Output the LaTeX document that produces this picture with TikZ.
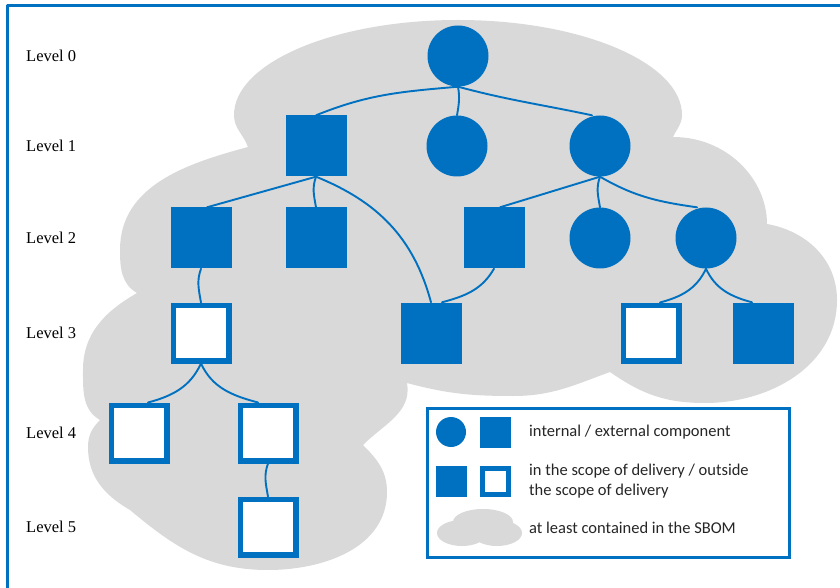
\documentclass[tikz,border=0pt]{standalone}
\usepackage{fontspec}
\setmainfont{Liberation Serif}
\newfontfamily\legendfont{Carlito}
\definecolor{SbomBlue}{HTML}{0070C0}
\definecolor{CloudGray}{HTML}{D9D9D9}

\begin{document}
\begin{tikzpicture}[x=1pt,y=1pt,line cap=round,line join=round,
  internal/.style={circle,fill=SbomBlue,minimum size=61pt,inner sep=0pt},
  external/.style={rectangle,fill=SbomBlue,minimum size=61pt,inner sep=0pt},
  outside/.style={rectangle,draw=SbomBlue,fill=white,line width=5.5pt,line join=miter,minimum size=55.5pt,inner sep=0pt},
  link/.style={draw=SbomBlue,line width=1.9pt},
  level/.style={anchor=west,inner sep=0pt,font=\fontsize{16.5}{20}\selectfont},
  key/.style={anchor=west,inner sep=0pt,text=black!85,font=\legendfont\fontsize{16.5}{20}\selectfont}]
  \useasboundingbox (0,0) rectangle (840,587);
  % cloud = everything listed in the SBOM
  \fill[CloudGray] (248,440) to[out=110,in=270] (234,472) .. controls (234,524) and (334,567) .. (458,567)
    .. controls (582,567) and (682,524) .. (682,472) to[out=270,in=65] (673,450)
    .. controls (727,450) and (767,408) .. (767,363) to[out=-10,in=90] (837,287) to[out=270,in=0] (705,184) to[out=180,in=-35] (610,215)
    to[out=200,in=0] (513,191) to[out=180,in=-15] (407,204) to[out=-80,in=45] (363,142)
    to[out=-45,in=90] (387,95) to[out=270,in=0] (268,17) to[out=180,in=-40] (130,77)
    to[out=150,in=270] (88,140) to[out=90,in=225] (100,167) to[out=150,in=270] (83,217) to[out=90,in=210] (137,294)
    to[out=150,in=270] (120,337) to[out=90,in=195] (248,440) -- cycle;
  \draw[SbomBlue,line width=3pt] (7,-20) rectangle (870,581);
  \foreach \n/\y in {0/531,1/441,2/349,3/254,4/154,5/60}{\node[level] (lv\n) at (26,\y) {Level \n};}
  % levels 0 to 5
  \node[internal] (root) at (458,531) {};
  \node[external] (l1a) at (316,441) {}; \node[internal] (l1b) at (457,441) {}; \node[internal] (l1c) at (600,441) {};
  \node[external] (l2a) at (201,349) {}; \node[external] (l2b) at (316,349) {}; \node[external] (l2c) at (494,349) {};
  \node[internal] (l2d) at (600,349) {}; \node[internal] (l2e) at (706,349) {};
  \node[outside] (l3a) at (201,254) {}; \node[external] (l3b) at (431,254) {};
  \node[outside] (l3c) at (651,254) {}; \node[external] (l3d) at (763,254) {};
  \node[outside] (l4a) at (139,154) {}; \node[outside] (l4b) at (268,154) {};
  \node[outside] (l5a) at (268,60) {};
  \draw[link] (root.south) to[out=185,in=22] (l1a.north);
  \draw[link] (root.south) to[out=-80,in=80] (l1b.north);
  \draw[link] (root.south) to[out=-15,in=168] ([xshift=-8pt]l1c.north);
  \draw[link] (l1a.south) -- ([xshift=6pt]l2a.north);
  \draw[link] (l1a.south) to[out=-110,in=100] (l2b.north);
  \draw[link] (l1a.south) to[out=-22,in=105] (l3b.north);
  \draw[link] (l2c.south) to[out=-120,in=15] ([xshift=11pt]l3b.north);
  \draw[link] (l1c.south) -- ([xshift=6pt]l2c.north);
  \draw[link] (l1c.south) to[out=-110,in=100] (l2d.north);
  \draw[link] (l1c.south) to[out=-30,in=172] ([xshift=-9pt]l2e.north);
  \draw[link] (l2a.south) to[out=-110,in=100] (l3a.north);
  \draw[link] (l2e.south) to[out=-115,in=15] ([xshift=9pt]l3c.north);
  \draw[link] (l2e.south) to[out=-65,in=165] ([xshift=-11pt]l3d.north);
  \draw[link] (l3a.south) to[out=-115,in=15] ([xshift=9pt]l4a.north);
  \draw[link] (l3a.south) to[out=-65,in=165] ([xshift=-10pt]l4b.north);
  \draw[link] (l4b.south) to[out=-110,in=100] (l5a.north);
  % legend
  \draw[SbomBlue,line width=3pt,fill=white,line join=miter] (427,30) rectangle (789,179);
  \node[internal,minimum size=30pt] (keyint) at (451,155) {}; \node[external,minimum size=31pt] (keyext) at (495,155) {};
  \node[external,minimum size=31pt] (keyin) at (451,106) {};
  \node[outside,minimum size=26pt,line width=5pt] (keyout) at (495,106) {};
  \fill[CloudGray] (462,54) ellipse[x radius=25pt,y radius=13pt] (497,54) ellipse[x radius=25pt,y radius=13pt]
    (483,65) ellipse[x radius=30pt,y radius=13pt];
  \node[key] (txtint) at (529,155) {internal / external component};
  \node[key,align=left] (txtscope) at (529,106) {in the scope of delivery / outside\\the scope of delivery};
  \node[key] (txtsbom) at (529,59) {at least contained in the SBOM};
\end{tikzpicture}
\end{document}
